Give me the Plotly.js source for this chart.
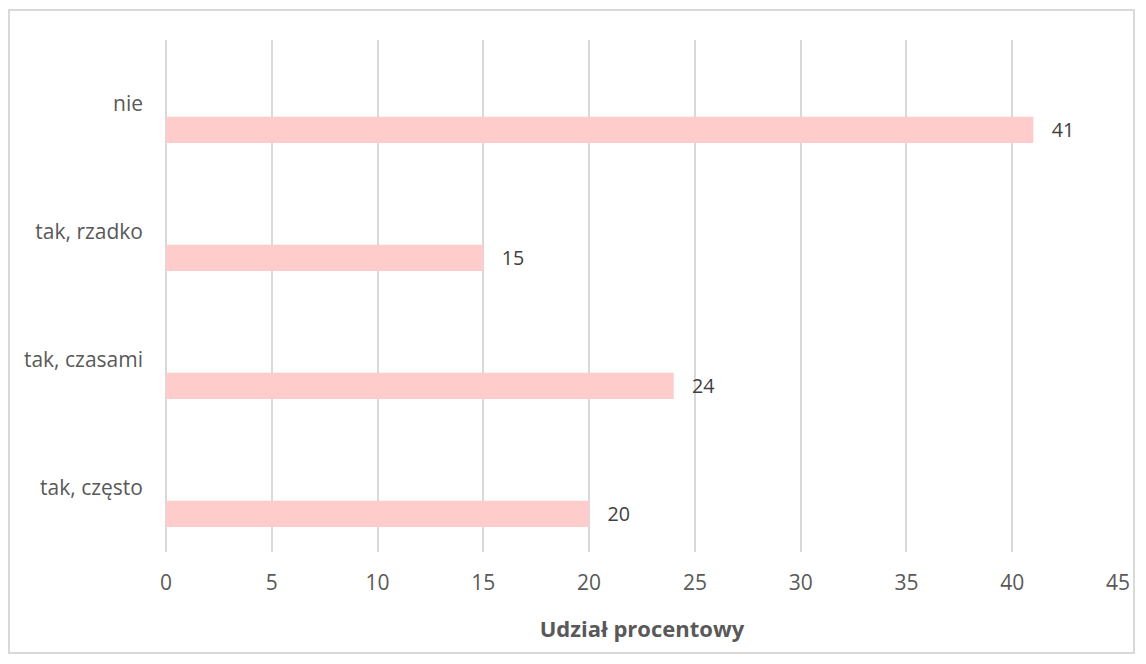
<!DOCTYPE html>
<html>
<head>
<meta charset="utf-8">
<script src="https://cdn.plot.ly/plotly-3.0.1.min.js"></script>
<style>
  html, body { margin: 0; padding: 0; background: #ffffff; }
  #frame { position: absolute; left: 8px; top: 9px; width: 1127px; height: 645px; border: 2px solid #D9D9D9; box-sizing: border-box; }
  #chart { position: absolute; left: 0; top: 0; width: 1146px; height: 664px; }
</style>
</head>
<body>
<div id="frame"></div>
<div id="chart"></div>
<script>
// Data (bottom to top)
const categories = ["tak, często", "tak, czasami", "tak, rzadko", "nie"];
const values = [20, 24, 15, 41];
const xTickValues = [0, 5, 10, 15, 20, 25, 30, 35, 40, 45];
const xAxisTitle = "Udział procentowy";

const textColor = "#595959";
const fontFamily = "'Open Sans', 'Noto Sans', sans-serif";

const trace = {
  type: "bar",
  orientation: "h",
  y: categories,
  x: values,
  marker: { color: "#FFCCCC" },
  width: 0.205,
  offset: -0.305,
  text: values.map(v => String(v)),
  texttemplate: "\u00a0\u00a0\u00a0%{text}",
  textposition: "outside",
  cliponaxis: false,
  textfont: { family: fontFamily, size: 21, color: "#404040" },
  hoverinfo: "none"
};

const layout = {
  width: 1146,
  height: 664,
  margin: { l: 166, r: 28, t: 40, b: 112 },
  paper_bgcolor: "rgba(0,0,0,0)",
  plot_bgcolor: "rgba(0,0,0,0)",
  showlegend: false,
  font: { family: fontFamily, size: 21, color: textColor },
  xaxis: {
    range: [0, 45],
    tickvals: xTickValues,
    showgrid: true,
    gridcolor: "#D9D9D9",
    gridwidth: 2,
    zeroline: true,
    zerolinecolor: "#D9D9D9",
    zerolinewidth: 2,
    showline: false,
    ticks: "",
    ticklabelstandoff: 16,
    tickfont: { family: fontFamily, size: 21, color: textColor },
    title: { text: xAxisTitle, font: { family: fontFamily, size: 22, color: textColor, weight: "bold" }, standoff: 26 }
  },
  yaxis: {
    type: "category",
    categoryorder: "array",
    categoryarray: categories,
    showgrid: false,
    zeroline: false,
    showline: false,
    ticks: "",
    ticklabelstandoff: 22,
    tickfont: { family: fontFamily, size: 21, color: textColor }
  }
};

Plotly.newPlot("chart", [trace], layout, { displayModeBar: false, staticPlot: true });
</script>
</body>
</html>
